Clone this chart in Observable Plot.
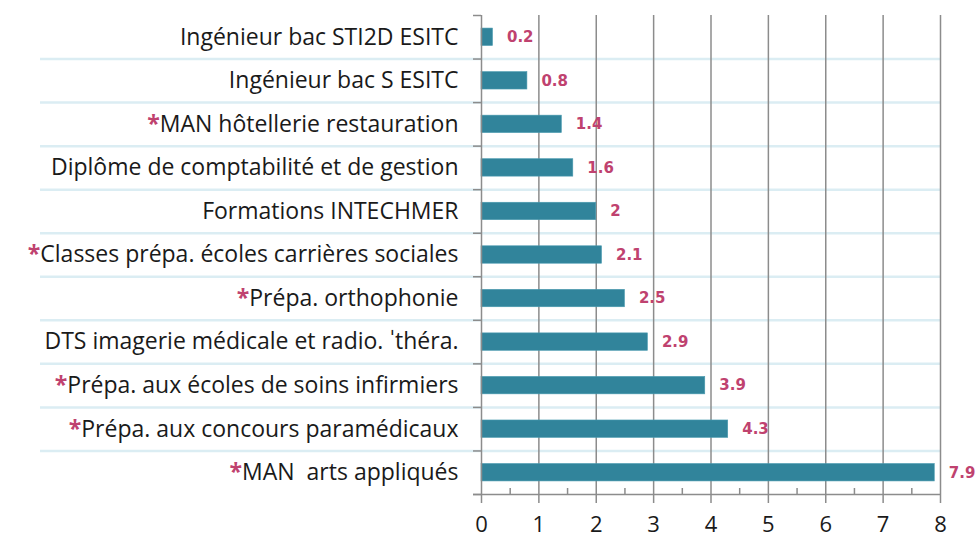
<!DOCTYPE html>
<html>
<head>
<meta charset="utf-8">
<script src="https://cdn.jsdelivr.net/npm/d3@7"></script>
<script src="https://cdn.jsdelivr.net/npm/@observablehq/plot@0.6"></script>
<style>
  html, body { margin: 0; padding: 0; background: #fff; }
  #chart svg text { white-space: pre; }
</style>
</head>
<body>
<div id="chart"></div>
<script>
// ---- data (top to bottom) ----
const categories = [
  "Ingénieur bac STI2D ESITC",
  "Ingénieur bac S ESITC",
  "*MAN hôtellerie restauration",
  "Diplôme de comptabilité et de gestion",
  "Formations INTECHMER",
  "*Classes prépa. écoles carrières sociales",
  "*Prépa. orthophonie",
  "DTS imagerie médicale et radio. ˈthéra.",
  "*Prépa. aux écoles de soins infirmiers",
  "*Prépa. aux concours paramédicaux",
  "*MAN  arts appliqués"
];
const values = [0.2, 0.8, 1.4, 1.6, 2, 2.1, 2.5, 2.9, 3.9, 4.3, 7.9];
const xTicks = [0, 1, 2, 3, 4, 5, 6, 7, 8];
const xMinorTicks = [0.5, 1.5, 2.5, 3.5, 4.5, 5.5, 6.5, 7.5];

// ---- layout ----
const W = 978, H = 538;
const mL = 481, mR = 38, mT = 15, mB = 44;
const ppu = (W - mL - mR) / 8;          // pixels per x unit
const rowPx = (H - mT - mB) / categories.length;
const idx = categories.map((_, i) => i);
const boundaries = d3.range(-0.5, categories.length, 1);
const data = categories.map((c, i) => ({c, i, value: values[i]}));

const gridColor = "#8c8c8c";
const sepColor = "#dbedf3";
const barColor = "#31849b";
const labelColor = "#bf426f";

const chart = Plot.plot({
  width: W, height: H,
  marginLeft: mL, marginRight: mR, marginTop: mT, marginBottom: mB,
  style: {fontFamily: "'Open Sans', Lato, sans-serif", background: "#fff", overflow: "visible"},
  x: {domain: [0, 8], label: null},
  y: {domain: [-0.5, categories.length - 0.5], reverse: true, label: null},
  marks: [
    // light blue row separators (extend into label area)
    Plot.ruleY(boundaries.slice(1, -1), {x1: -(mL - 40) / ppu, x2: 8, stroke: sepColor, strokeWidth: 2.5}),
    // vertical gridlines
    Plot.ruleX(xTicks.slice(1), {stroke: gridColor, strokeWidth: 1.5}),
    // bars
    Plot.rect(data, {x1: 0, x2: "value", y1: d => d.i - 0.2, y2: d => d.i + 0.2, fill: barColor, stroke: "#4a9ab0", strokeWidth: 0.6}),
    // y axis line and ticks at category boundaries
    Plot.ruleX([0], {stroke: gridColor, strokeWidth: 1.5}),
    Plot.ruleY(boundaries, {x1: -8 / ppu, x2: 0, stroke: gridColor, strokeWidth: 1.5}),
    // x axis line
    Plot.ruleY([categories.length - 0.5], {x1: -8 / ppu, x2: 8, stroke: gridColor, strokeWidth: 1.5}),
    // minor ticks (upward)
    Plot.ruleX(xMinorTicks, {y1: categories.length - 0.5, y2: categories.length - 0.5 - 6 / rowPx, stroke: gridColor, strokeWidth: 1.5}),
    // x axis with major ticks
    Plot.axisX({ticks: xTicks, tickSize: 9, tickPadding: 13, fontSize: 22, stroke: gridColor, strokeWidth: 1.5, fill: "#1a1a1a", tickFormat: d => String(d), label: null}),
    // y axis labels
    Plot.axisY({ticks: idx, tickSize: 0, tickPadding: 23, fontSize: 23, fill: "#1a1a1a", tickFormat: i => categories[i], label: null}),
    // value labels
    Plot.text(data, {x: "value", y: "i", text: d => String(d.value), dx: 14, textAnchor: "start",
      fill: labelColor, fontWeight: "bold", fontSize: 15, fontFamily: "'DejaVu Sans', sans-serif"})
  ]
});

document.getElementById("chart").appendChild(chart);

// colour leading asterisks
d3.select(chart).selectAll("g[aria-label='y-axis tick label'] text").each(function() {
  const t = this.textContent;
  if (t.startsWith("*")) {
    const sel = d3.select(this);
    sel.text(null);
    sel.append("tspan").attr("fill", labelColor).attr("font-weight", "bold").text("*");
    sel.append("tspan").text(t.slice(1));
  }
});
</script>
</body>
</html>
